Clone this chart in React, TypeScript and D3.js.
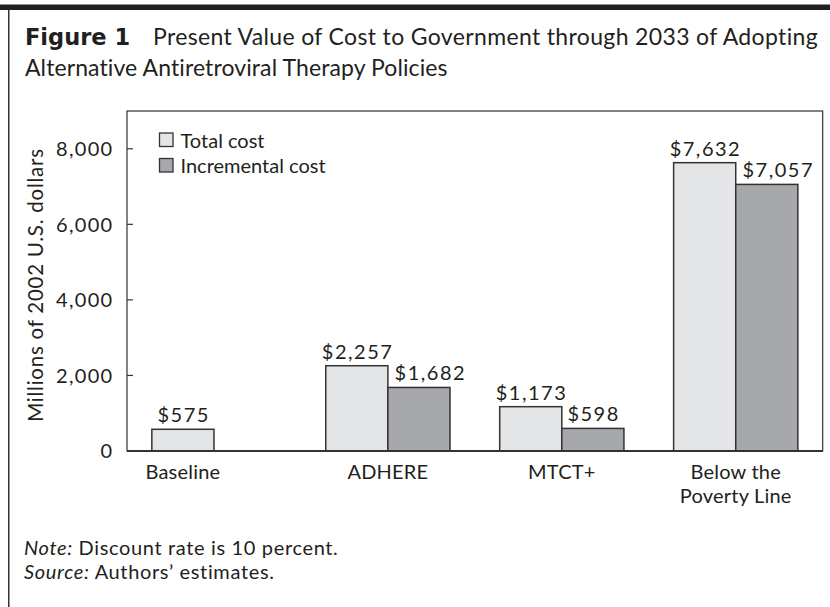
import React from "react";
import * as d3 from "d3";

const categories = ["Baseline", "ADHERE", "MTCT+", "Below the Poverty Line"];
const categoryLines = [["Baseline"], ["ADHERE"], ["MTCT+"], ["Below the", "Poverty Line"]];
const seriesKeys = ["Total cost", "Incremental cost"];
const totalCost: (number | null)[] = [575, 2257, 1173, 7632];
const incrementalCost: (number | null)[] = [null, 1682, 598, 7057];
const yTicks = [0, 2000, 4000, 6000, 8000];
const titleBold = "Figure 1";
const titleLine1 = "Present Value of Cost to Government through 2033 of Adopting";
const titleLine2 = "Alternative Antiretroviral Therapy Policies";
const yLabel = "Millions of 2002 U.S. dollars";

const W = 830;
const H = 607;
const FONT = "Lato, 'Open Sans', sans-serif";
const TEXT = "#231f20";
const LINE = "#333333";
const COLORS = ["#e4e5e7", "#a7a8ab"];
const CHAR_W = 11.55; // approximate width of one value-label character
const LABEL_GAP = 3.5;

export default function App() {
  const left = 127, right = 822.7, top = 111, bottom = 451;
  const x = d3.scaleBand<string>().domain(categories).range([left, right]).paddingInner(0).paddingOuter(0);
  const xs = d3.scaleBand<string>().domain(seriesKeys).range([0, x.bandwidth()]).paddingInner(0).paddingOuter(0.4);
  const y = d3.scaleLinear().domain([0, 9000]).range([bottom, top]);
  const fmt = d3.format(",");
  const series = [totalCost, incrementalCost];

  return (
    <svg width={W} height={H} style={{ position: "absolute", left: 0, top: 0, background: "#fff" }} fontFamily={FONT}>
      <rect x={0} y={0} width={W} height={H} fill="#fff" />
      {/* figure frame */}
      <rect x={0} y={4.5} width={W} height={5.5} fill="#231f20" />
      <line x1={8.75} x2={8.75} y1={10} y2={H} stroke={LINE} strokeWidth={1.5} />
      {/* title */}
      <text x={25} y={45} fontSize={23} fill={TEXT}>
        <tspan fontFamily="'DejaVu Sans', sans-serif" fontWeight={700} fontSize={22.5}>{titleBold}</tspan>
      </text>
      <text x={153} y={45} fontSize={23} fill={TEXT} letterSpacing={0.35}>{titleLine1}</text>
      <text x={25} y={76} fontSize={23} fill={TEXT} letterSpacing={0.1}>{titleLine2}</text>

      {/* bars */}
      {categories.map((c, i) => {
        let prevRight = -Infinity;
        return (
          <g key={c}>
            {series.map((s, k) => {
              const v = s[i];
              if (v == null) return null;
              const bx = (x(c) as number) + (xs(seriesKeys[k]) as number);
              const label = "$" + fmt(v);
              const w = label.length * CHAR_W;
              const cx = Math.max(bx + xs.bandwidth() / 2, prevRight + LABEL_GAP + w / 2);
              prevRight = cx + w / 2;
              return (
                <g key={k}>
                  <rect x={bx} y={y(v)} width={xs.bandwidth()} height={bottom - y(v)} fill={COLORS[k]} stroke={LINE} strokeWidth={1.5} />
                  <text x={cx + 0.75} y={y(v) - 7} textAnchor="middle" fontSize={20} letterSpacing={1.5} fill={TEXT}>
                    {label}
                  </text>
                </g>
              );
            })}
          </g>
        );
      })}

      {/* plot frame */}
      <rect x={left} y={top} width={right - left} height={bottom - top} fill="none" stroke={LINE} strokeWidth={1.2} />
      <line x1={left} x2={right} y1={bottom} y2={bottom} stroke={LINE} strokeWidth={2.2} />

      {/* y ticks */}
      {yTicks.map((t) => (
        <g key={t}>
          {t > 0 && <line x1={left} x2={left + 6} y1={y(t)} y2={y(t)} stroke={LINE} strokeWidth={1.2} />}
          <text x={113.5} y={y(t)} dy="0.36em" textAnchor="end" fontSize={20} letterSpacing={1.3} fill={TEXT}>
            {fmt(t)}
          </text>
        </g>
      ))}
      <text transform={`translate(43,${(top + bottom) / 2 + 4}) rotate(-90)`} textAnchor="middle" fontSize={20.5} letterSpacing={0.75} fill={TEXT}>
        {yLabel}
      </text>

      {/* x labels */}
      {categories.map((c, i) => {
        const centers = series
          .map((s, k) => (s[i] == null ? null : (x(c) as number) + (xs(seriesKeys[k]) as number) + xs.bandwidth() / 2))
          .filter((v) => v != null) as number[];
        const cx = d3.mean(centers) as number;
        return (
          <text key={c} x={cx} y={479} textAnchor="middle" fontSize={20} letterSpacing={0.2} fill={TEXT}>
            {categoryLines[i].map((ln, j) => (
              <tspan key={j} x={cx} dy={j === 0 ? 0 : 24}>{ln}</tspan>
            ))}
          </text>
        );
      })}

      {/* legend */}
      {seriesKeys.map((k, i) => (
        <g key={k}>
          <rect x={159.5} y={133 + i * 25.5} width={13.5} height={13.5} fill={COLORS[i]} stroke={LINE} strokeWidth={1.3} />
          <text x={180.5} y={147.5 + i * 25.5} fontSize={20} fill={TEXT}>{k}</text>
        </g>
      ))}

      {/* notes */}
      <text x={24} y={555} fontSize={20} letterSpacing={0.65} fill={TEXT}>
        <tspan fontStyle="italic">Note:</tspan> Discount rate is 10 percent.
      </text>
      <text x={24} y={579} fontSize={20} letterSpacing={0.65} fill={TEXT}>
        <tspan fontStyle="italic">Source:</tspan> Authors’ estimates.
      </text>
    </svg>
  );
}
